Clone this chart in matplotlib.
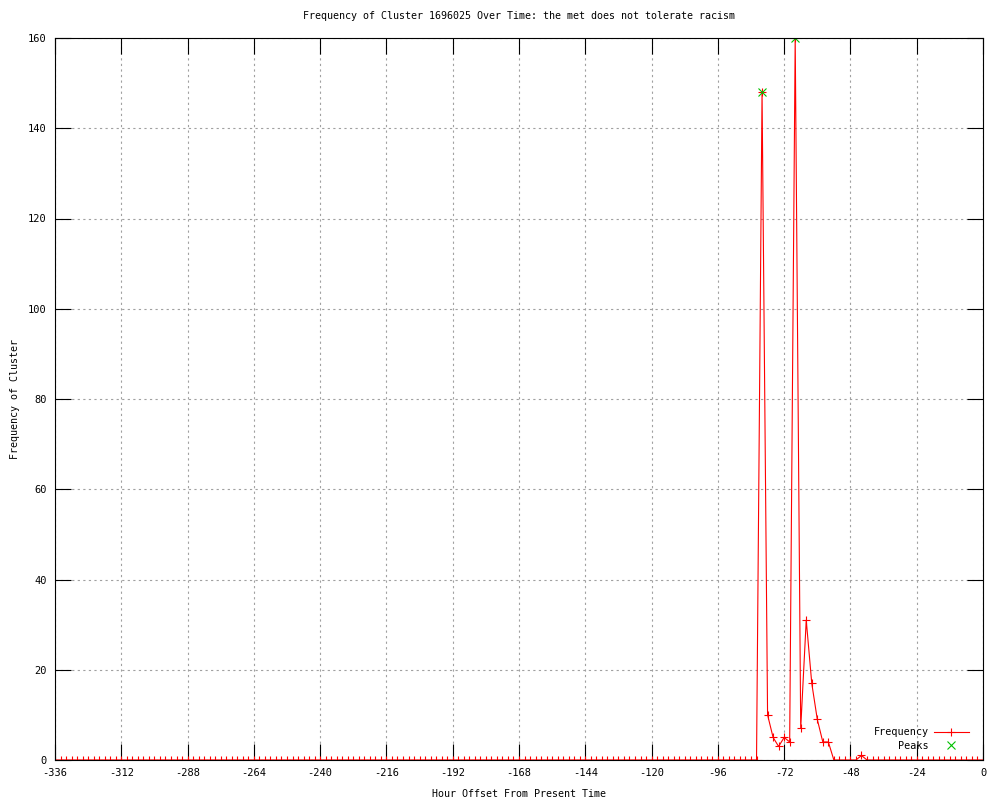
import numpy as np
import matplotlib.pyplot as plt

# hours sampled every 2 hours over two weeks
hours = list(range(-336, 2, 2))
# non-zero counts (everything else is zero)
active_hours = [-80, -78, -76, -74, -72, -70, -68, -66, -64, -62, -60, -58, -56, -44]
active_counts = [148, 10, 5, 3, 5, 4, 160, 7, 31, 17, 9, 4, 4, 1]
peak_hours = [-80, -68]
peak_counts = [148, 160]

x_ticks = list(range(-336, 1, 24))
y_ticks = list(range(0, 161, 20))

counts = [0] * len(hours)
for h, c in zip(active_hours, active_counts):
  counts[hours.index(h)] = c

plt.rcParams['font.family'] = 'DejaVu Sans Mono'
plt.rcParams['axes.unicode_minus'] = False

fig = plt.figure(figsize=(10, 8), dpi=100)
ax = fig.add_axes([0.055, 0.05, 0.928, 0.9025])

ax.plot(hours, counts, color='#ff0000', linewidth=0.8, marker='+',
        markersize=6, markeredgewidth=0.8, label='Frequency')
ax.plot(peak_hours, peak_counts, linestyle='none', color='#00c000', marker='x',
        markersize=6, markeredgewidth=0.8, label='Peaks')

ax.set_xlim(-336, 0)
ax.set_ylim(0, 160)
ax.set_xticks(x_ticks)
ax.set_yticks(y_ticks)
ax.tick_params(direction='in', length=11.5, width=0.8, top=True, right=True,
               labelsize=7.5, pad=6)
ax.grid(True, color='#a0a0a0', linestyle=(0, (2, 3)), linewidth=0.8)
for s in ax.spines.values():
  s.set_linewidth(0.8)

ax.set_title('Frequency of Cluster 1696025 Over Time: the met does not tolerate racism',
             fontsize=7.2, pad=14)
ax.set_xlabel('Hour Offset From Present Time', fontsize=7.2, labelpad=8)
ax.set_ylabel('Frequency of Cluster', fontsize=7.2, labelpad=6)

ax.legend(loc='lower right', bbox_to_anchor=(0.995, 0.0), markerfirst=False,
          frameon=False, fontsize=7.3, handlelength=3.5, labelspacing=0.35,
          handletextpad=0.5)

fig.savefig('out.png', dpi=100)
